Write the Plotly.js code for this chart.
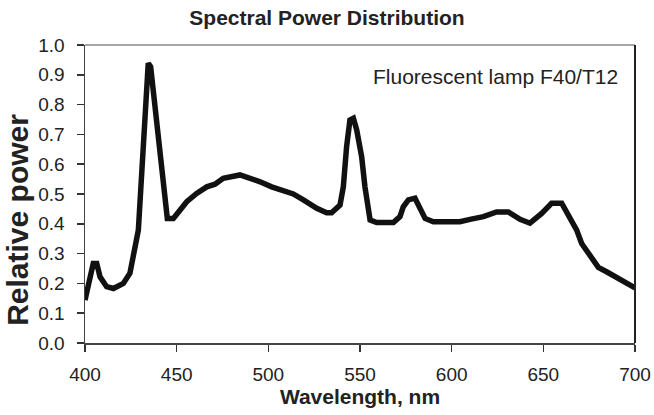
<!DOCTYPE html>
<html>
<head>
<meta charset="utf-8">
<script src="https://cdn.plot.ly/plotly-3.0.1.min.js"></script>
<style>html,body{margin:0;padding:0;background:#fff;}#chart{width:654px;height:415px;}</style>
</head>
<body>
<div id="chart"></div>
<script>
const wavelength = [400, 401.8, 404.5, 406.4, 408.2, 411.8, 415.5, 420.9, 424.5, 429.1, 430.9, 432.7, 434.5, 435.8, 439.1, 440.9, 442.7, 444.9, 448.2, 450.9, 455.5, 460.9, 466.4, 470.9, 475.4, 484.5, 490, 495.5, 501.8, 508.2, 513.6, 519.1, 526.4, 531.8, 534.5, 539.1, 540.9, 542.7, 544.5, 546.4, 548.2, 550.9, 552.7, 555.5, 559.1, 568.2, 571.8, 573.6, 576.4, 580, 582.7, 585.5, 590, 599.1, 604.5, 610, 617.3, 624.5, 630.9, 637.3, 642.7, 649.1, 654.5, 660, 662.7, 668.2, 670.9, 675.5, 680, 684.5, 690, 695.5, 700];
const relativePower = [0.144, 0.20, 0.267, 0.267, 0.222, 0.189, 0.183, 0.20, 0.234, 0.379, 0.547, 0.76, 0.939, 0.927, 0.726, 0.637, 0.513, 0.418, 0.418, 0.44, 0.474, 0.502, 0.524, 0.533, 0.553, 0.564, 0.553, 0.541, 0.524, 0.513, 0.50, 0.48, 0.452, 0.437, 0.437, 0.463, 0.524, 0.659, 0.748, 0.754, 0.715, 0.625, 0.524, 0.413, 0.404, 0.404, 0.424, 0.457, 0.48, 0.486, 0.457, 0.418, 0.407, 0.407, 0.407, 0.415, 0.424, 0.44, 0.44, 0.415, 0.402, 0.435, 0.469, 0.469, 0.44, 0.379, 0.334, 0.29, 0.254, 0.239, 0.22, 0.20, 0.185];
const xTicks = [400, 450, 500, 550, 600, 650, 700];
const yTicks = [0, 0.1, 0.2, 0.3, 0.4, 0.5, 0.6, 0.7, 0.8, 0.9, 1.0];
const yTickLabels = yTicks.map(v => v.toFixed(1));
const chartTitle = 'Spectral Power Distribution';
const seriesLabel = 'Fluorescent lamp F40/T12';
const yTitle = 'Relative power';
const xTitle = 'Wavelength, nm';

const font = 'Liberation Sans, Arial, sans-serif';
Plotly.newPlot('chart', [{
  x: wavelength, y: relativePower, type: 'scatter', mode: 'lines',
  line: {color: '#111', width: 5.5, shape: 'linear'}, hoverinfo: 'skip'
}], {
  width: 654, height: 415,
  margin: {l: 85, r: 19, t: 45, b: 72},
  paper_bgcolor: '#fff', plot_bgcolor: '#fff',
  showlegend: false,
  title: {text: '<b>' + chartTitle + '</b>', x: 0.5, xanchor: 'center', y: 0.957, yanchor: 'middle',
          font: {family: font, size: 21, color: '#222'}},
  xaxis: {range: [400, 700], tickvals: xTicks, ticktext: xTicks.map(String), automargin: false,
          ticks: 'outside', ticklen: 7, tickcolor: '#333', tickwidth: 1.5, ticklabelstandoff: 7,
          showline: true, linecolor: '#444', linewidth: 1.5, showgrid: false, zeroline: false,
          tickfont: {family: font, size: 19, color: '#222'},
          title: {text: '<b>' + xTitle + '</b>', font: {family: font, size: 21, color: '#222'}, standoff: 2}},
  yaxis: {range: [0, 1.0], tickvals: yTicks, ticktext: yTickLabels, automargin: false,
          ticks: 'outside', ticklen: 7, tickcolor: '#333', tickwidth: 1.5, ticklabelstandoff: 8,
          showline: true, linecolor: '#444', linewidth: 1.5, showgrid: false, zeroline: false,
          tickfont: {family: font, size: 19, color: '#222'}},
  shapes: [
    {type: 'line', xref: 'paper', yref: 'paper', x0: 0, x1: 1, y0: 1, y1: 1, line: {color: '#888', width: 1.5}},
    {type: 'line', xref: 'paper', yref: 'paper', x0: 1, x1: 1, y0: 0, y1: 1, line: {color: '#222', width: 2}}
  ],
  annotations: [{
    text: seriesLabel, xref: 'paper', yref: 'paper', x: 0.972, y: 0.893, xanchor: 'right', yanchor: 'middle',
    showarrow: false, font: {family: font, size: 21, color: '#222'}
  }, {
    text: '<b>' + yTitle + '</b>', xref: 'paper', yref: 'paper', x: -0.122, y: 0.413, xanchor: 'center', yanchor: 'middle',
    textangle: -90, showarrow: false, font: {family: font, size: 30, color: '#222'}
  }]
}, {staticPlot: true});
</script>
</body>
</html>
